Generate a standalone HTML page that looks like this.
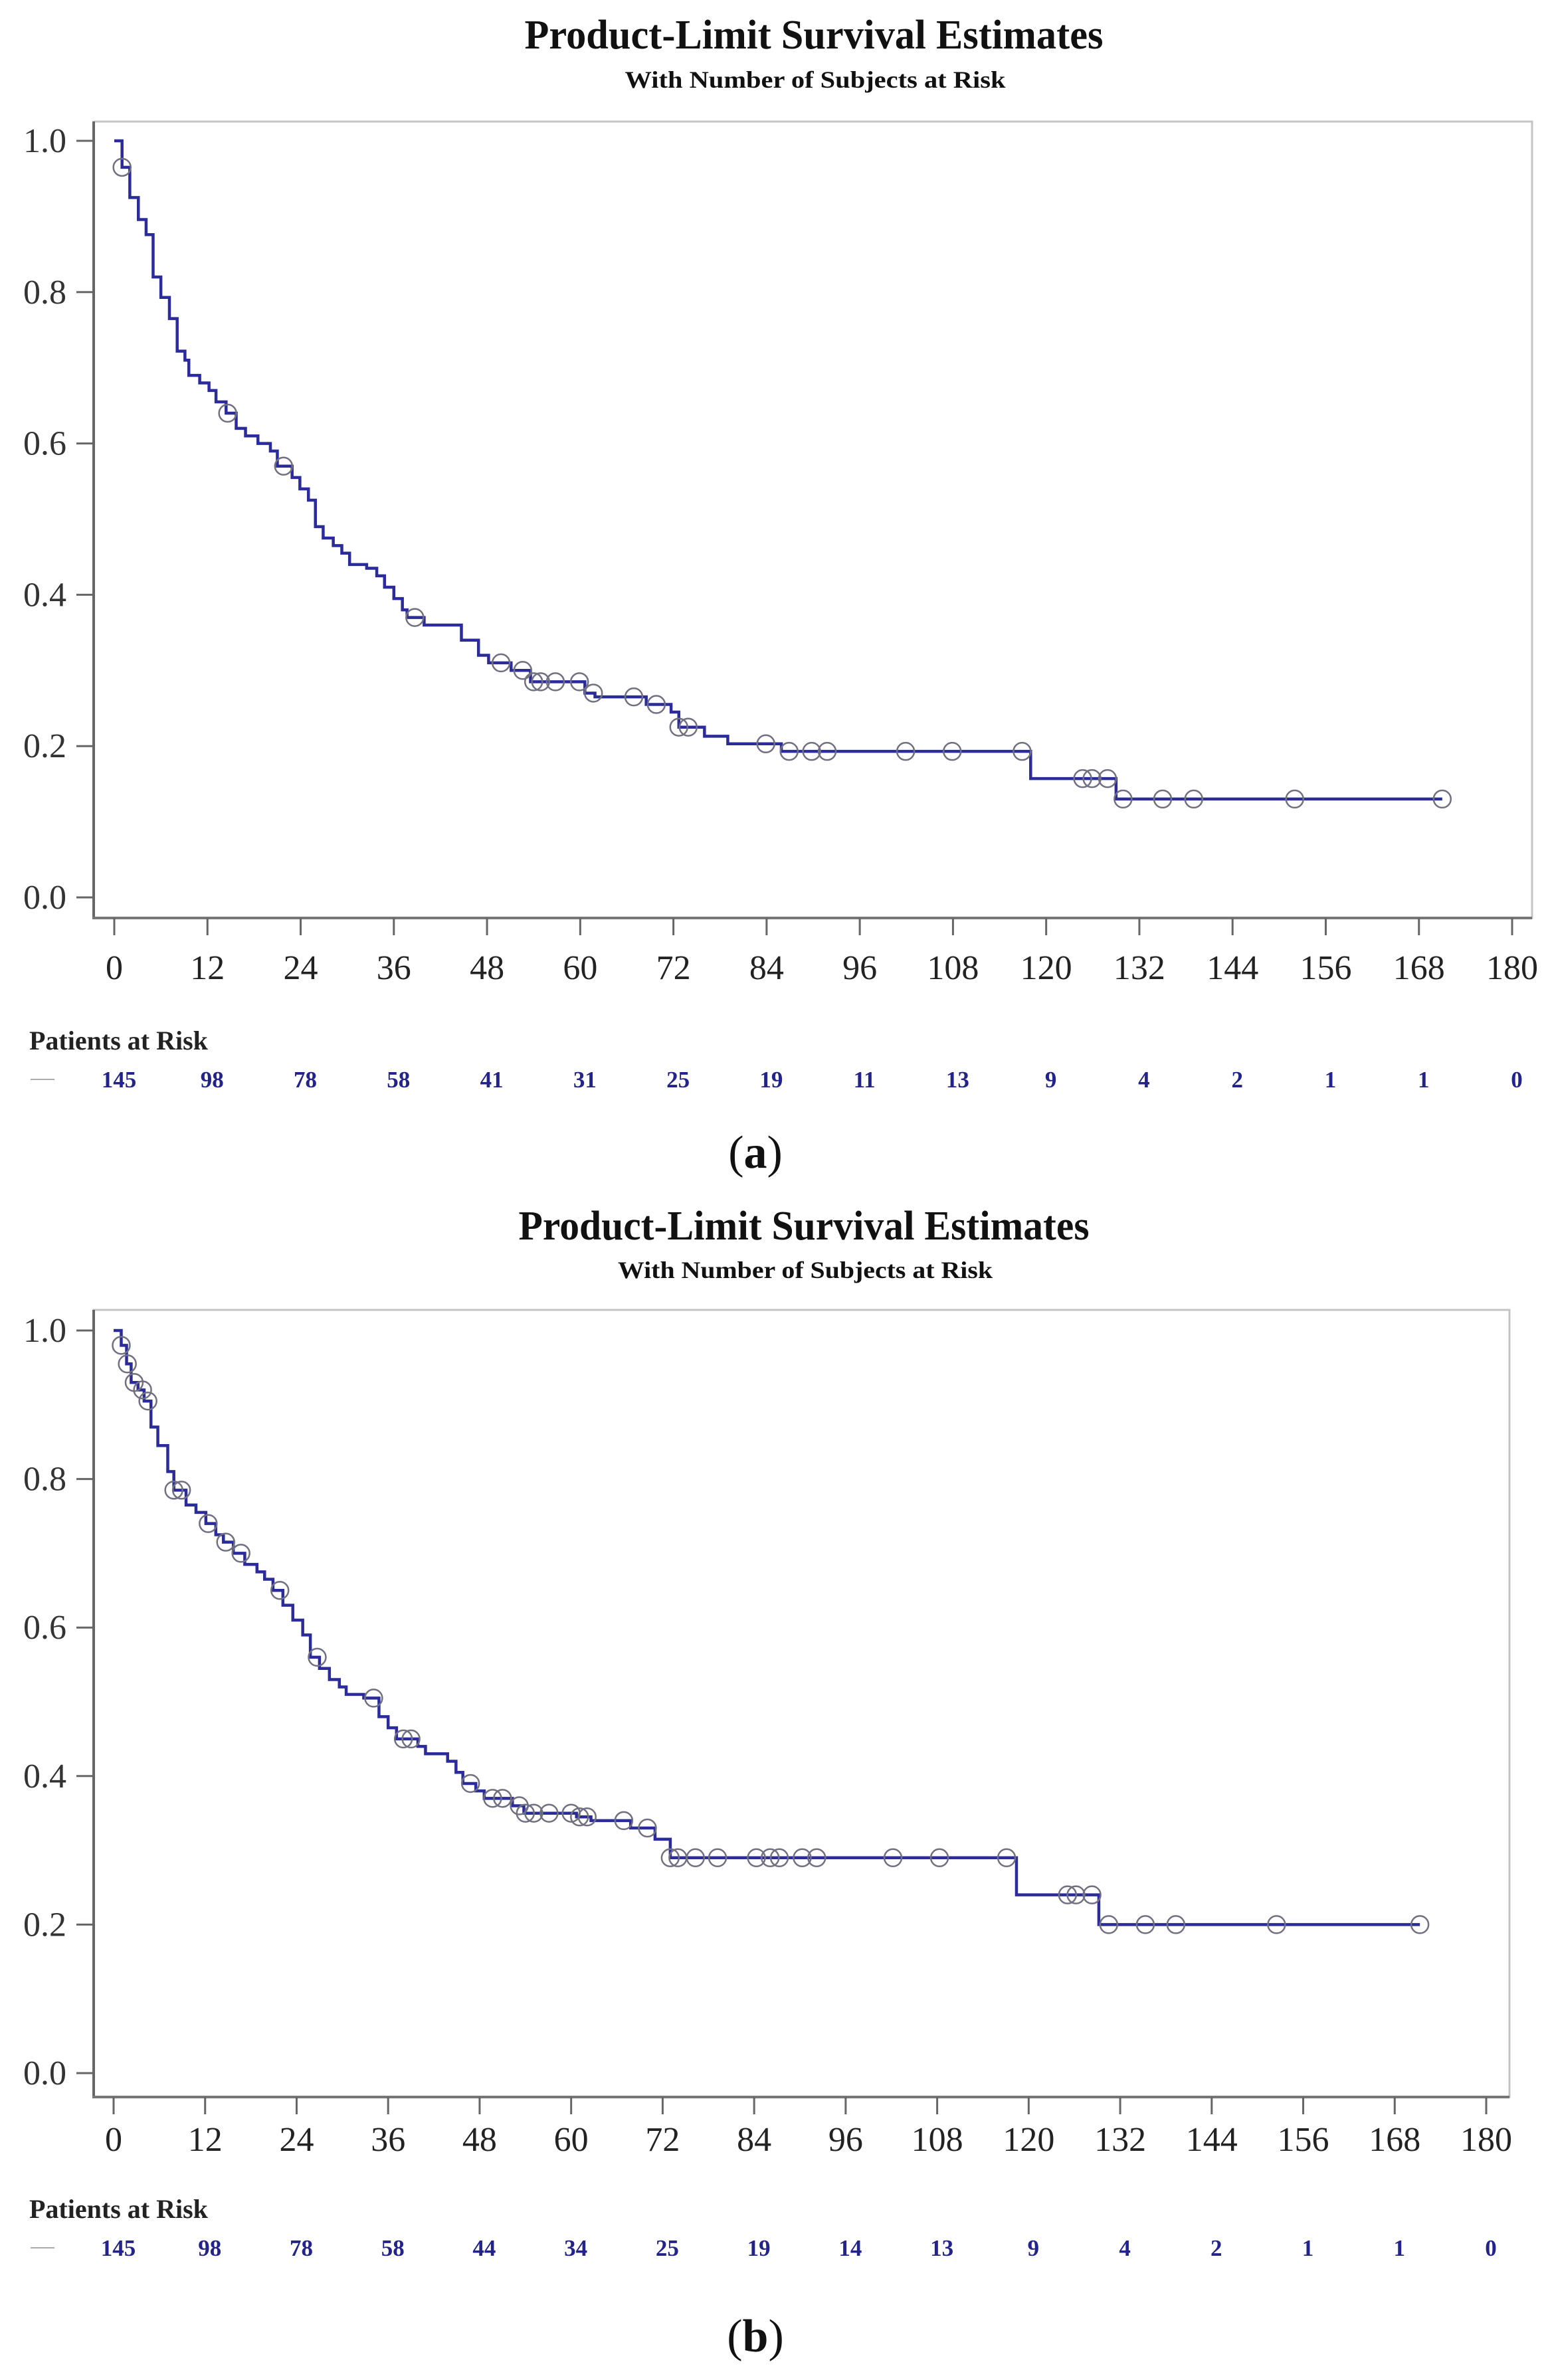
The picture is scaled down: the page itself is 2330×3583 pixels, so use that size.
<!DOCTYPE html>
<html><head><meta charset="utf-8"><style>
html,body{margin:0;padding:0;background:#fff;}
svg{display:block;}
text{font-family:"Liberation Serif",serif;}
</style></head><body>
<svg id="chart" width="2330" height="3583" viewBox="0 0 2330 3583" xmlns="http://www.w3.org/2000/svg"></svg>
<script>
// ---- Panel (a) data ----
const aStepTimes = [0,1,2,3.1,4.1,5,6,7.1,8.1,9.1,9.6,11,12.2,13.1,14.4,15.7,16.9,18.5,20.1,21,22.9,23.9,25,25.9,26.9,28.2,29.3,30.3,32.5,33.8,34.8,36,37.1,37.7,39.9,44.7,46.9,48.2,51.1,53.6,60.6,61.9,68.5,71.7,72.7,76,79,85.9,118,129];
const aStepSurv  = [1,0.965,0.925,0.896,0.876,0.82,0.793,0.765,0.722,0.71,0.69,0.68,0.67,0.655,0.64,0.62,0.61,0.60,0.59,0.57,0.555,0.54,0.525,0.49,0.475,0.465,0.455,0.44,0.435,0.425,0.41,0.395,0.38,0.37,0.36,0.34,0.32,0.31,0.30,0.285,0.27,0.265,0.255,0.245,0.225,0.213,0.203,0.193,0.157,0.13];
const aCensor = [1,14.6,21.8,38.7,49.8,52.6,54,54.9,56.8,59.9,61.7,66.9,69.8,72.7,73.9,83.9,86.9,89.8,91.8,101.9,107.9,116.9,124.7,125.9,127.9,129.9,135,139,152,171];
const aEnd = 171;
const aRisk = ["145","98","78","58","41","31","25","19","11","13","9","4","2","1","1","0"];
// ---- Panel (b) data ----
const bStepTimes = [0,1,1.7,2.3,3.2,4,4.9,5.8,7.1,7.9,9.5,10.8,12.1,13.4,14.4,15.7,17.2,18.8,19.8,20.9,22.2,23.5,24.8,25.8,27,28.3,29.6,30.5,32.8,34.8,36,37.1,39.9,40.9,43.8,44.9,45.8,47.5,48.6,52.3,53.8,60.7,62.6,67.8,71,73,118.4,129.2];
const bStepSurv  = [1,0.98,0.955,0.93,0.92,0.905,0.87,0.845,0.81,0.785,0.765,0.755,0.74,0.725,0.715,0.70,0.685,0.675,0.665,0.65,0.63,0.61,0.59,0.56,0.545,0.53,0.52,0.51,0.505,0.48,0.465,0.45,0.44,0.43,0.42,0.405,0.39,0.38,0.37,0.36,0.35,0.345,0.34,0.33,0.315,0.29,0.24,0.20];
const bCensor = [1,1.8,2.7,3.8,4.5,7.9,8.9,12.4,14.7,16.7,21.8,26.7,34.1,38,39,46.8,49.7,51,53.2,54,55.1,57.1,60,61.1,62.1,66.9,70,73,74,76.3,79.2,84.3,86.1,87.3,90.3,92.2,102.2,108.3,117.1,125.1,126.2,128.3,130.5,135.3,139.3,152.5,171.3];
const bEnd = 171.3;
const bRisk = ["145","98","78","58","44","34","25","19","14","13","9","4","2","1","1","0"];
const xTicks = ["0","12","24","36","48","60","72","84","96","108","120","132","144","156","168","180"];
const yTicks = ["0.0","0.2","0.4","0.6","0.8","1.0"];

const NS = "http://www.w3.org/2000/svg";
const svg = document.getElementById("chart");
function mk(tag, attrs, parent){
  const e = document.createElementNS(NS, tag);
  for (const k in attrs) e.setAttribute(k, attrs[k]);
  (parent||svg).appendChild(e);
  return e;
}
function drawPanel(p, times, surv, censor, endT, risk, tag){
  const g = mk("g", {});
  
  
  const X = t => p.x0 + (t/180)*(p.x180 - p.x0);
  const Y = s => p.y0 - s*(p.y0 - p.y1);
  const S = t => { let v = surv[0]; for (let i=0;i<times.length;i++){ if (times[i] <= t + 1e-9) v = surv[i]; } return v; };
  const t1 = mk("text", {x:p.cx, y:p.titleY, "text-anchor":"middle", "font-size":62, "font-weight":"bold", fill:"#111", textLength:p.titleW, lengthAdjust:"spacingAndGlyphs"}, g);
  t1.textContent = "Product-Limit Survival Estimates";
  
  
  const t2 = mk("text", {x:p.cx + 2, y:p.subY, "text-anchor":"middle", "font-size":36, "font-weight":"bold", fill:"#111", textLength:p.subW, lengthAdjust:"spacingAndGlyphs"}, g);
  t2.textContent = "With Number of Subjects at Risk";
  
  
  const fr = mk("rect", {x:p.fl, y:p.ft, width:p.fr-p.fl, height:p.fb-p.ft, fill:"none", stroke:"#c4c4c4", "stroke-width":3}, g);
  
  
  const ya = mk("line", {x1:p.fl, y1:p.ft, x2:p.fl, y2:p.fb+2, stroke:"#666", "stroke-width":4}, g);
  
  
  const xa = mk("line", {x1:p.fl-2, y1:p.fb, x2:p.fr, y2:p.fb, stroke:"#777", "stroke-width":4}, g);
  
  
  yTicks.forEach((lab, i) => {
    const v = i*0.2, yy = Y(v);
    const tk = mk("line", {x1:p.fl-26, y1:yy, x2:p.fl, y2:yy, stroke:"#666", "stroke-width":3}, g);
    
    
    const tx = mk("text", {x:100, y:yy+17, "text-anchor":"end", "font-size":52, fill:"#333"}, g);
    tx.textContent = lab;
    
    
  });
  xTicks.forEach((lab, i) => {
    const xx = X(+lab);
    const tk = mk("line", {x1:xx, y1:p.fb, x2:xx, y2:p.fb+26, stroke:"#666", "stroke-width":3}, g);
    
    
    const tx = mk("text", {x:xx, y:p.xlabY, "text-anchor":"middle", "font-size":52, fill:"#222"}, g);
    tx.textContent = lab;
    
    
  });
  let d = "M" + X(times[0]) + "," + Y(surv[0]);
  for (let i=1;i<times.length;i++){
    d += " H" + X(times[i]) + " V" + Y(surv[i]);
  }
  d += " H" + X(endT);
  const path = mk("path", {d:d, fill:"none", stroke:"#2b2b9c", "stroke-width":4.5}, g);
  
  
  censor.forEach(t => {
    const c = mk("circle", {cx:X(t), cy:Y(S(t)), r:13, fill:"none", stroke:"#707080", "stroke-width":2.5}, g);
    
    
  });
  const pr = mk("text", {x:44, y:p.prY, "font-size":40, "font-weight":"bold", fill:"#222"}, g);
  pr.textContent = "Patients at Risk";
  
  
  const dash = mk("line", {x1:46, y1:p.numY-12, x2:82, y2:p.numY-12, stroke:"#aaa", "stroke-width":2}, g);
  
  
  risk.forEach((n, i) => {
    const tx = mk("text", {x:X(i*12)+7, y:p.numY, "text-anchor":"middle", "font-size":35, "font-weight":"bold", fill:"#23238c"}, g);
    tx.textContent = n;
    
    
  });
  const cap = mk("text", {x:1137, y:p.capY, "text-anchor":"middle", "font-size":70, fill:"#111"}, g);
  cap.innerHTML = '(<tspan font-weight="bold">' + tag + '</tspan>)';
  
  
}
drawPanel({cx:1225, titleY:73, titleW:871, subY:132, subW:573, fl:141, fr:2306, ft:183, fb:1382,
  x0:172, x180:2276, y0:1351, y1:212, xlabY:1474, prY:1580, numY:1637, capY:1758},
  aStepTimes, aStepSurv, aCensor, aEnd, aRisk, "a");
drawPanel({cx:1210, titleY:1866, titleW:859, subY:1924, subW:564, fl:141, fr:2272, ft:1972, fb:3157,
  x0:171, x180:2237, y0:3121, y1:2003, xlabY:3238, prY:3339, numY:3396, capY:3540},
  bStepTimes, bStepSurv, bCensor, bEnd, bRisk, "b");
</script>
</body></html>
